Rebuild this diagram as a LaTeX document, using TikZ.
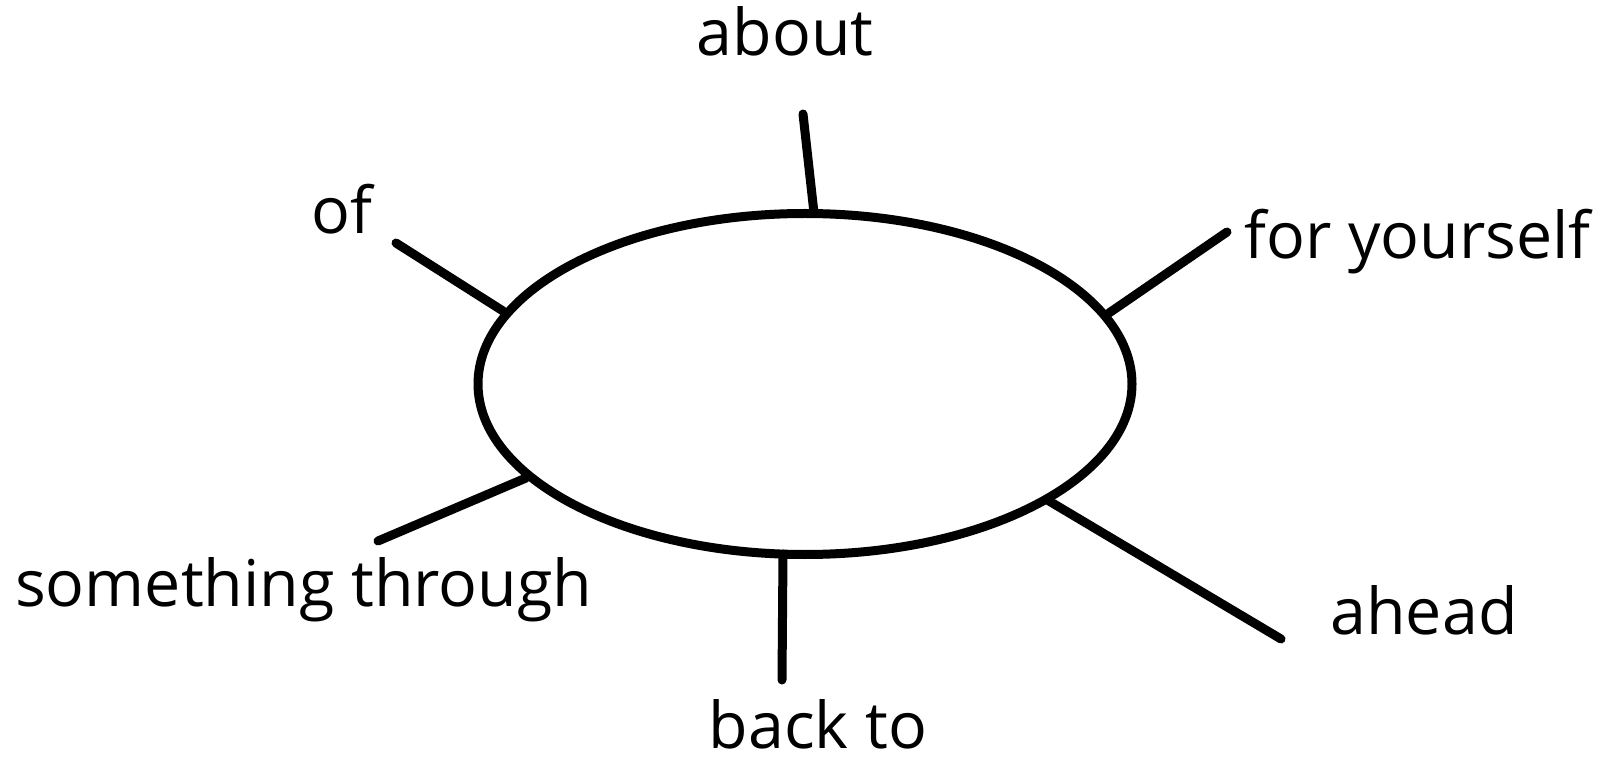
\documentclass[tikz,border=0pt]{standalone}
\usepackage{fontspec}
\setmainfont{Open Sans}
\usetikzlibrary{shapes.geometric}
\begin{document}
\begin{tikzpicture}[x=1pt,y=-1pt,
  spoke/.style={line width=9pt,line cap=round},
  lbl/.style={inner sep=0pt,font=\fontsize{64.5}{76}\selectfont},
  ring/.style={draw,ellipse,line width=9pt,minimum width=654pt,minimum height=341pt,inner sep=0pt}]
\useasboundingbox (0,0) rectangle (1610,759);
\node[ring] (e) at (805,384) {};
% spoke ends
\coordinate (a1) at (814,213); \coordinate (a2) at (803,114);
\coordinate (o1) at (503,311); \coordinate (o2) at (396,243);
\coordinate (f1) at (1109,313); \coordinate (f2) at (1227,232);
\coordinate (s1) at (526,478); \coordinate (s2) at (378,541);
\coordinate (b1) at (783,554); \coordinate (b2) at (782,680);
\coordinate (h1) at (1049,501); \coordinate (h2) at (1281,639);
\draw[spoke] (a1) -- (a2);
\draw[spoke] (o1) -- (o2);
\draw[spoke] (f1) -- (f2);
\draw[spoke] (s1) -- (s2);
\draw[spoke] (b1) -- (b2);
\draw[spoke] (h1) -- (h2);
% labels
\node[lbl,anchor=base] (la) at (785,56) {about};
\node[lbl,anchor=base] (lo) at (342,234) {of};
\node[lbl,anchor=base west] (lf) at (1244,259) {for yourself};
\node[lbl,anchor=base west] (ls) at (15,606) {something through};
\node[lbl,anchor=base] (lb) at (818,748) {back to};
\node[lbl,anchor=base] (lh) at (1424,634) {ahead};
\end{tikzpicture}
\end{document}
